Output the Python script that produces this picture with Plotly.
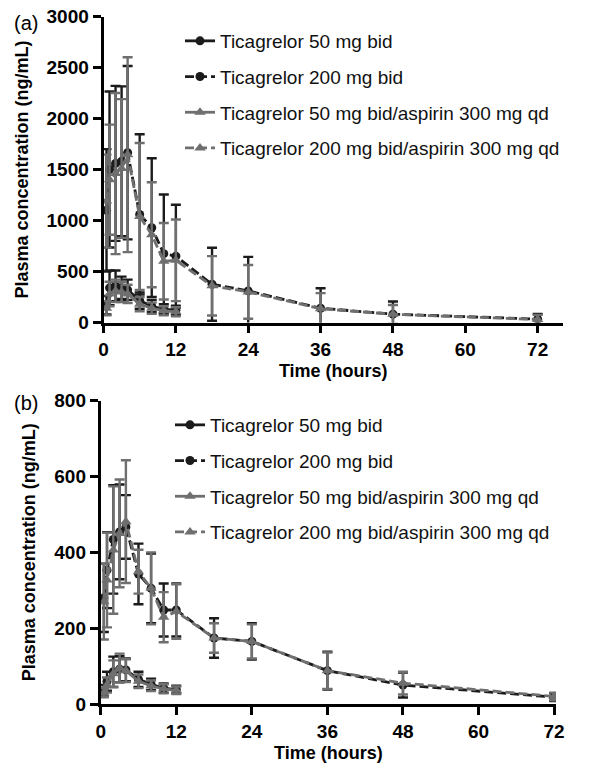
import plotly.graph_objects as go

# ---------------- data ----------------
series_names = [
    "Ticagrelor 50 mg bid",
    "Ticagrelor 200 mg bid",
    "Ticagrelor 50 mg bid/aspirin 300 mg qd",
    "Ticagrelor 200 mg bid/aspirin 300 mg qd",
]
x_ticks = [0, 12, 24, 36, 48, 60, 72]

time_low = [0.5, 1, 2, 3, 4, 6, 8, 10, 12]
time_high = [0.5, 1, 2, 3, 4, 6, 8, 10, 12, 18, 24, 36, 48, 72]

# Panel (a)
a_50 = [170, 340, 360, 340, 320, 215, 160, 130, 120]
a_50_sd = [90, 170, 150, 110, 100, 80, 60, 50, 45]
a_200 = [1100, 1500, 1560, 1580, 1665, 1060, 930, 675, 650, 375, 310, 140, 82, 33]
a_200_sd = [600, 765, 760, 735, 850, 785, 680, 580, 505, 358, 333, 196, 124, 50]
a_50asa = [140, 280, 310, 300, 280, 180, 140, 115, 105]
a_50asa_sd = [70, 120, 110, 100, 90, 70, 55, 45, 45]
a_200asa = [1190, 1400, 1460, 1510, 1645, 1040, 860, 600, 610, 360, 300, 135, 80, 30]
a_200asa_sd = [456, 540, 790, 680, 955, 720, 515, 375, 400, 291, 263, 153, 91, 45]

# Panel (b)
b_50 = [35, 60, 85, 92, 90, 65, 52, 42, 38]
b_50_sd = [15, 25, 40, 35, 30, 20, 15, 12, 10]
b_200 = [280, 353, 434, 454, 467, 343, 305, 248, 248, 174, 165, 88, 50, 18]
b_200_sd = [90, 100, 143, 125, 84, 80, 92, 70, 70, 52, 48, 50, 33, 10]
b_50asa = [30, 50, 80, 95, 88, 60, 48, 40, 36]
b_50asa_sd = [12, 20, 35, 38, 30, 18, 14, 12, 10]
b_200asa = [270, 327, 406, 450, 481, 349, 305, 229, 244, 174, 165, 88, 55, 20]
b_200asa_sd = [100, 125, 168, 142, 162, 58, 95, 66, 72, 39, 45, 48, 30, 10]

# ---------------- styling ----------------
BLACK = "#1b1b1b"
GREY = "#6f6f6f"
styles = [
    dict(color=BLACK, dash="solid", symbol="circle"),
    dict(color=BLACK, dash="9px,4px", symbol="circle"),
    dict(color=GREY, dash="solid", symbol="triangle-up"),
    dict(color=GREY, dash="9px,4px", symbol="triangle-up"),
]
FONT = "Liberation Sans, Arial, sans-serif"

W, H = 597, 766
OFF = 0  # page body margin removed below

fig = go.Figure()

panels = [
    dict(xa="x", ya="y", legend="legend", tag="a",
         data=[(time_low, a_50, a_50_sd), (time_high, a_200, a_200_sd),
               (time_low, a_50asa, a_50asa_sd), (time_high, a_200asa, a_200asa_sd)]),
    dict(xa="x2", ya="y2", legend="legend2", tag="b",
         data=[(time_low, b_50, b_50_sd), (time_high, b_200, b_200_sd),
               (time_low, b_50asa, b_50asa_sd), (time_high, b_200asa, b_200asa_sd)]),
]

for p in panels:
    for i, (t, v, sd) in enumerate(p["data"]):
        st = styles[i]
        fig.add_trace(go.Scatter(
            x=t, y=v, mode="lines+markers", name=series_names[i],
            xaxis=p["xa"], yaxis=p["ya"], legend=p["legend"],
            legendgroup=p["tag"] + str(i),
            line=dict(color=st["color"], width=2.8, dash=st["dash"]),
            marker=dict(color=st["color"], size=9 if st["symbol"] == "circle" else 10,
                        symbol=st["symbol"]),
            error_y=dict(type="data", array=sd, visible=True, color=st["color"],
                         thickness=2.4, width=5),
        ))

def px_x(p):
    return (p - OFF) / W

def px_y(p):
    return 1 - (p - OFF) / H

axis_common = dict(
    showline=True, linecolor="black", linewidth=2.8,
    ticks="outside", ticklen=8, tickwidth=2.8, tickcolor="black",
    showgrid=False, zeroline=False, automargin=False,
    ticklabeloverflow="allow",
    tickfont=dict(family=FONT, size=19, color="black", weight="bold"),
)

fig.update_layout(
    width=W, height=H,
    margin=dict(l=0, r=0, t=0, b=0, autoexpand=False),
    paper_bgcolor="white", plot_bgcolor="white",
    font=dict(family=FONT, color="black"),
    xaxis=dict(domain=[px_x(103.5), px_x(563)], range=[0, 76.2], anchor="y",
               tickvals=x_ticks,
               title=dict(text="Time (hours)", standoff=6,
                          font=dict(family=FONT, size=18, weight="bold")),
               **axis_common),
    yaxis=dict(domain=[px_y(322.5), px_y(16.5)], range=[0, 3000], anchor="x",
               tickvals=[0, 500, 1000, 1500, 2000, 2500, 3000],
               title=dict(text="Plasma concentration (ng/mL)", standoff=14,
                          font=dict(family=FONT, size=18, weight="bold")),
               **axis_common),
    xaxis2=dict(domain=[px_x(100.7), px_x(556)], range=[0, 72.3], anchor="y2",
                tickvals=x_ticks,
                title=dict(text="Time (hours)", standoff=6,
                           font=dict(family=FONT, size=18, weight="bold")),
                **axis_common),
    yaxis2=dict(domain=[px_y(704), px_y(400.7)], range=[0, 800], anchor="x2",
                tickvals=[0, 200, 400, 600, 800],
                title=dict(text="Plasma concentration (ng/mL)", standoff=14,
                           font=dict(family=FONT, size=18, weight="bold")),
                **axis_common),
    legend=dict(x=px_x(180), xanchor="left", y=px_y(22), yanchor="top",
                font=dict(family=FONT, size=19, color="#111111"),
                bgcolor="rgba(0,0,0,0)", tracegroupgap=8, itemwidth=30),
    legend2=dict(x=px_x(170), xanchor="left", y=px_y(406), yanchor="top",
                 font=dict(family=FONT, size=19, color="#111111"),
                 bgcolor="rgba(0,0,0,0)", tracegroupgap=8, itemwidth=30),
    annotations=[
        dict(text="(a)", x=px_x(12), y=px_y(23), xref="paper", yref="paper",
             xanchor="left", yanchor="middle", showarrow=False,
             font=dict(family=FONT, size=20, color="black")),
        dict(text="(b)", x=px_x(12), y=px_y(403), xref="paper", yref="paper",
             xanchor="left", yanchor="middle", showarrow=False,
             font=dict(family=FONT, size=20, color="black")),
    ],
)

fig.write_html("out.html",
               config={"displayModeBar": False},
               post_script="document.body.style.margin='0';document.body.style.padding='0';")
